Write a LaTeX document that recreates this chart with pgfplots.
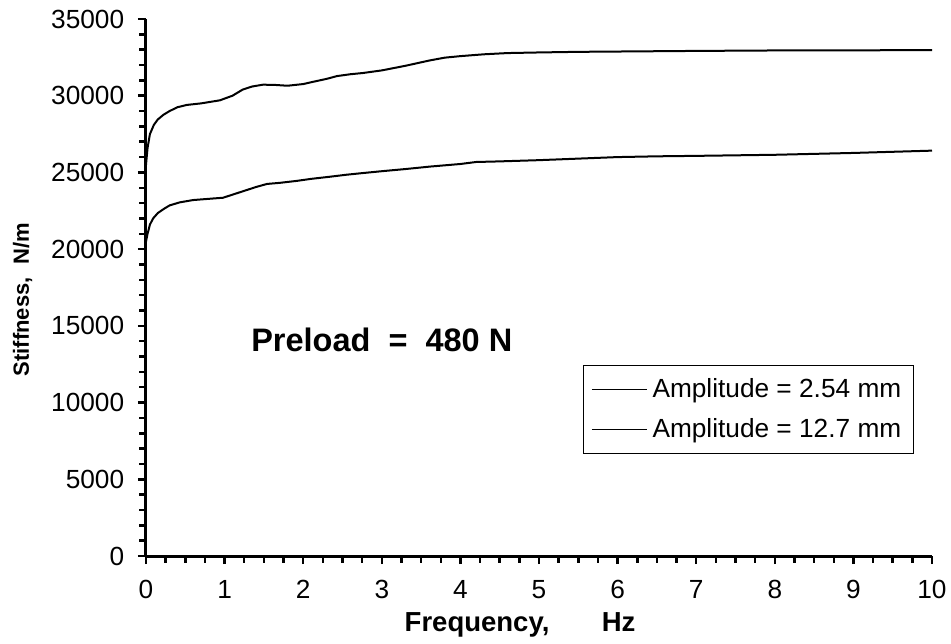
\documentclass[border=0pt]{standalone}
\usepackage{pgfplots}
\pgfplotsset{compat=1.18}
\usepackage{fontspec}
\setmainfont{Liberation Sans}
\begin{document}
\begin{tikzpicture}
\begin{axis}[
  scale only axis,
  width=314.4pt, height=214.8pt,
  xmin=0, xmax=10, ymin=0, ymax=35000,
  axis x line*=bottom, axis y line*=left,
  axis line style={line width=1.2pt,-},
  xtick={0,1,...,10}, minor x tick num=3,
  ytick={0,5000,...,35000}, minor y tick num=4,
  tick align=outside,
  major tick length=3.2pt, minor tick length=2.6pt,
  every tick/.style={black,line width=1pt},
  scaled y ticks=false,
  yticklabel style={/pgf/number format/1000 sep={}, font=\fontsize{10.5}{12}\selectfont, xshift=-2pt},
  xticklabel style={font=\fontsize{10.5}{12}\selectfont, yshift=-3pt},
  /pgf/number format/assume math mode=true,
  xlabel={\textbf{Frequency,\hspace{21pt}Hz}},
  ylabel={\textbf{Stiffness,\hspace{5pt}N/m}},
  every axis x label/.style={at={(axis description cs:0.476,-0.128)},anchor=center,font=\fontsize{11}{12}\selectfont},
  every axis y label/.style={at={(axis description cs:-0.157,0.477)},anchor=center,rotate=90,font=\fontsize{8.8}{10}\selectfont},
  legend style={at={(axis cs:5.56,12450)},anchor=north west,draw=black,line width=0.4pt,
    font=\fontsize{10.5}{12}\selectfont, row sep=3pt, inner sep=3pt},
  legend cell align=left,
  legend image code/.code={\draw[line width=0.6pt] (0cm,0cm) -- (22pt,0cm);},
]
\addplot[black, line width=0.8pt] coordinates {
(0,25500) (0.02,26600) (0.05,27500) (0.1,28100) (0.15,28450) (0.22,28750) (0.3,29000)
(0.4,29250) (0.52,29400) (0.7,29500) (0.94,29700) (1.1,30000) (1.23,30400) (1.35,30600)
(1.49,30720) (1.65,30700) (1.8,30650) (2.0,30760) (2.12,30900) (2.3,31100) (2.43,31280)
(2.6,31400) (2.76,31480) (3.0,31650) (3.3,31950) (3.61,32300) (3.8,32480) (4.0,32580)
(4.3,32700) (4.6,32780) (5.0,32820) (5.5,32860) (6,32880) (7,32920) (8,32950) (9,32960) (10,32970)
};
\addlegendentry{Amplitude = 2.54 mm}
\addplot[black, line width=0.8pt] coordinates {
(0,20500) (0.02,21000) (0.05,21600) (0.09,22000) (0.15,22350) (0.22,22600) (0.3,22850)
(0.43,23050) (0.6,23200) (0.85,23300) (0.98,23350) (1.1,23550) (1.28,23850) (1.4,24050)
(1.54,24250) (1.7,24320) (1.92,24450) (2.1,24580) (2.34,24720) (2.55,24850) (2.76,24960)
(3.0,25080) (3.3,25220) (3.61,25380) (4.0,25550) (4.2,25680) (4.5,25720) (5.0,25800)
(5.5,25900) (6.0,26000) (6.5,26050) (7.0,26080) (8.0,26150) (9.0,26270) (10,26420)
};
\addlegendentry{Amplitude = 12.7 mm}
\node[font=\bfseries\fontsize{13}{15}\selectfont] at (axis cs:3.0,14080) {Preload\ \ =\ \ 480 N};
\end{axis}
\pgfresetboundingbox
\path ([shift={(-58.4pt,-34.8pt)}]current axis.south west) rectangle ([shift={(7.6pt,7.6pt)}]current axis.north east);
\end{tikzpicture}
\end{document}
